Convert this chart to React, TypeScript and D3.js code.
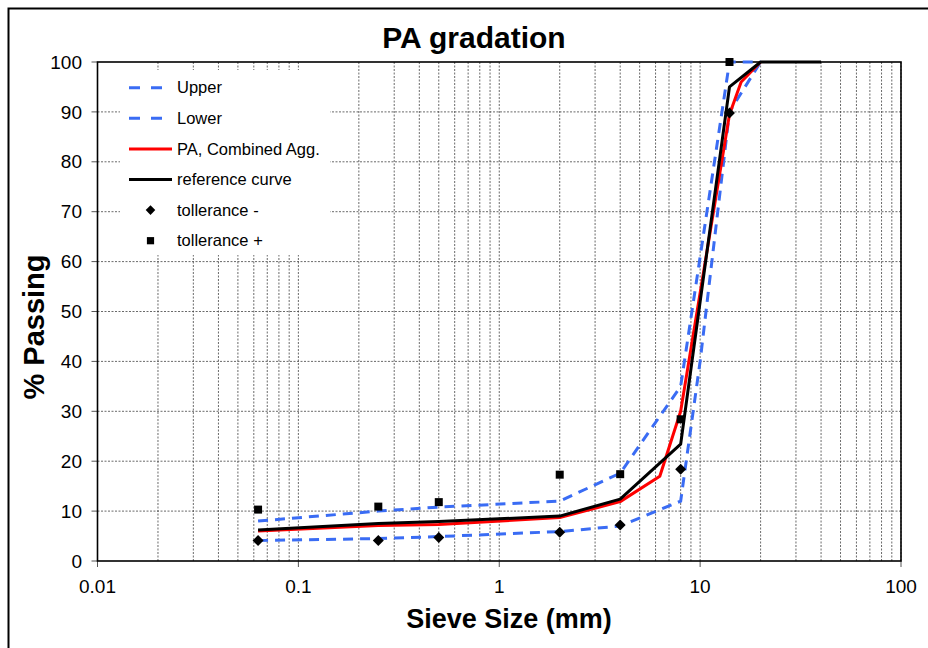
import React from "react";
import * as d3 from "d3";

// sieve sizes (mm) and % passing
const upperSieve = [0.063, 0.25, 0.5, 2, 4, 8, 14, 20];
const upperPass = [8, 10, 10.8, 12, 17.6, 35, 100, 100];

const lowerSieve = [0.063, 0.25, 0.5, 2, 4, 8, 10, 14, 20];
const lowerPass = [4.1, 4.5, 4.9, 5.9, 7.0, 12, 40, 90, 100];

const mixSieve = [0.063, 0.25, 0.5, 2, 4, 6.3, 8, 14, 16, 20];
const mixPass = [6.0, 7.1, 7.3, 8.7, 11.9, 17, 30, 89.5, 96, 100];

const refSieve = [0.063, 0.25, 0.5, 2, 4, 8, 14, 20, 40];
const refPass = [6.2, 7.5, 7.9, 9.0, 12.4, 23.4, 95, 100, 100];

const tolSieve = [0.063, 0.25, 0.5, 2, 4, 8, 14];
const tolMinus = [4.1, 4.1, 4.7, 5.75, 7.2, 18.4, 89.8];
const tolPlus = [10.3, 10.9, 11.8, 17.3, 17.4, 28.4, 100];

const xTicks = [0.01, 0.1, 1, 10, 100];
const xTickLabels = ["0.01", "0.1", "1", "10", "100"];
const yTicks = [0, 10, 20, 30, 40, 50, 60, 70, 80, 90, 100];

const legendItems = ["Upper", "Lower", "PA, Combined Agg.", "reference curve", "tollerance -", "tollerance +"];

const BLUE = "#3a6cf4";
const FONT = "'Liberation Sans', Arial, sans-serif";

export default function App() {
  const width = 928;
  const height = 648;
  const margin = { top: 62, right: 27, bottom: 87, left: 97.5 };

  const x = d3.scaleLog()
    .domain([0.01, 100])
    .range([margin.left, width - margin.right]);

  const y = d3.scaleLinear()
    .domain([0, 100])
    .range([height - margin.bottom, margin.top]);

  const line = d3.line<[number, number]>()
    .x(d => x(d[0]))
    .y(d => y(d[1]));

  const pairs = (s: number[], p: number[]) => s.map((v, i) => [v, p[i]] as [number, number]);

  // minor log grid: 1..9 in every decade
  const vGrid: number[] = [];
  for (let e = -2; e < 2; e++) {
    for (let k = 1; k < 10; k++) vGrid.push(k * Math.pow(10, e));
  }
  vGrid.push(100);

  const diamond = d3.symbol().type(d3.symbolSquare).size(60)();
  const square = d3.symbol().type(d3.symbolSquare).size(64)();
  const diamondSmall = d3.symbol().type(d3.symbolSquare).size(46)();
  const squareSmall = d3.symbol().type(d3.symbolSquare).size(52)();

  const x0 = x.range()[0], x1 = x.range()[1];
  const y0 = y.range()[0], y1 = y.range()[1];

  const legX = 120, legY = 70, legRow = 30.6;

  return (
    <svg width={width} height={height} style={{ position: "absolute", left: 0, top: 0, background: "#fff" }}
      fontFamily={FONT}>
      {/* outer chart border */}
      <rect x={8.5} y={8.5} width={940} height={660} fill="none" stroke="#000" strokeWidth={2} />

      <text x={474} y={48} textAnchor="middle" fontSize={30} fontWeight="bold">PA gradation</text>

      {/* grid */}
      <g stroke="#444" strokeWidth={0.8} strokeDasharray="2 1.5">
        {vGrid.map((v, i) => (
          <line key={"v" + i} x1={x(v)} x2={x(v)} y1={y1} y2={y0} />
        ))}
        {yTicks.slice(1, -1).map(v => (
          <line key={"h" + v} x1={x0} x2={x1} y1={y(v)} y2={y(v)} />
        ))}
      </g>

      {/* axes ticks */}
      <g stroke="#555" strokeWidth={1}>
        {yTicks.map(v => (
          <line key={"yt" + v} x1={x0 - 6} x2={x0} y1={y(v)} y2={y(v)} />
        ))}
        {xTicks.map(v => (
          <line key={"xt" + v} x1={x(v)} x2={x(v)} y1={y0} y2={y0 + 6} />
        ))}
      </g>
      <g fontSize={19} fill="#000">
        {yTicks.map(v => (
          <text key={"yl" + v} x={82} y={y(v)} dy="0.35em" textAnchor="end">{v}</text>
        ))}
        {xTicks.map((v, i) => (
          <text key={"xl" + v} x={x(v)} y={593} textAnchor="middle">{xTickLabels[i]}</text>
        ))}
      </g>

      {/* plot frame */}
      <rect x={x0} y={y1} width={x1 - x0} height={y0 - y1} fill="none" stroke="#000" strokeWidth={1.6} />

      {/* series */}
      <path d={line(pairs(upperSieve, upperPass)) || ""} fill="none" stroke={BLUE} strokeWidth={3} strokeDasharray="10 7" />
      <path d={line(pairs(lowerSieve, lowerPass)) || ""} fill="none" stroke={BLUE} strokeWidth={3} strokeDasharray="10 7" />
      <path d={line(pairs(mixSieve, mixPass)) || ""} fill="none" stroke="#ff0000" strokeWidth={3} strokeLinejoin="round" />
      <path d={line(pairs(refSieve, refPass)) || ""} fill="none" stroke="#000" strokeWidth={3} strokeLinejoin="round" />

      {tolSieve.map((s, i) => (
        <path key={"tm" + i} d={diamond || ""} transform={`translate(${x(s)},${y(tolMinus[i])}) rotate(45)`} fill="#000" />
      ))}
      {tolSieve.map((s, i) => (
        <path key={"tp" + i} d={square || ""} transform={`translate(${x(s)},${y(tolPlus[i])})`} fill="#000" />
      ))}

      {/* legend */}
      <rect x={legX} y={legY} width={210} height={185} fill="#fff" />
      <g fontSize={16.5}>
        {legendItems.map((name, i) => {
          const cy = 87.7 + i * legRow;
          return (
            <g key={name}>
              {i < 2 && (
                <line x1={129} x2={172} y1={cy} y2={cy} stroke={BLUE} strokeWidth={3} strokeDasharray="11 11" />
              )}
              {i === 2 && <line x1={129} x2={172} y1={cy} y2={cy} stroke="#ff0000" strokeWidth={3} />}
              {i === 3 && <line x1={129} x2={172} y1={cy} y2={cy} stroke="#000" strokeWidth={3} />}
              {i === 4 && (
                <path d={diamondSmall || ""} transform={`translate(150.5,${cy}) rotate(45)`} fill="#000" />
              )}
              {i === 5 && <path d={squareSmall || ""} transform={`translate(150.5,${cy})`} fill="#000" />}
              <text x={177} y={cy} dy="0.35em">{name}</text>
            </g>
          );
        })}
      </g>

      <text x={509} y={628} textAnchor="middle" fontSize={27} fontWeight="bold">Sieve Size (mm)</text>
      <text transform="translate(44,327) rotate(-90)" textAnchor="middle" fontSize={29} fontWeight="bold">% Passing</text>
    </svg>
  );
}
